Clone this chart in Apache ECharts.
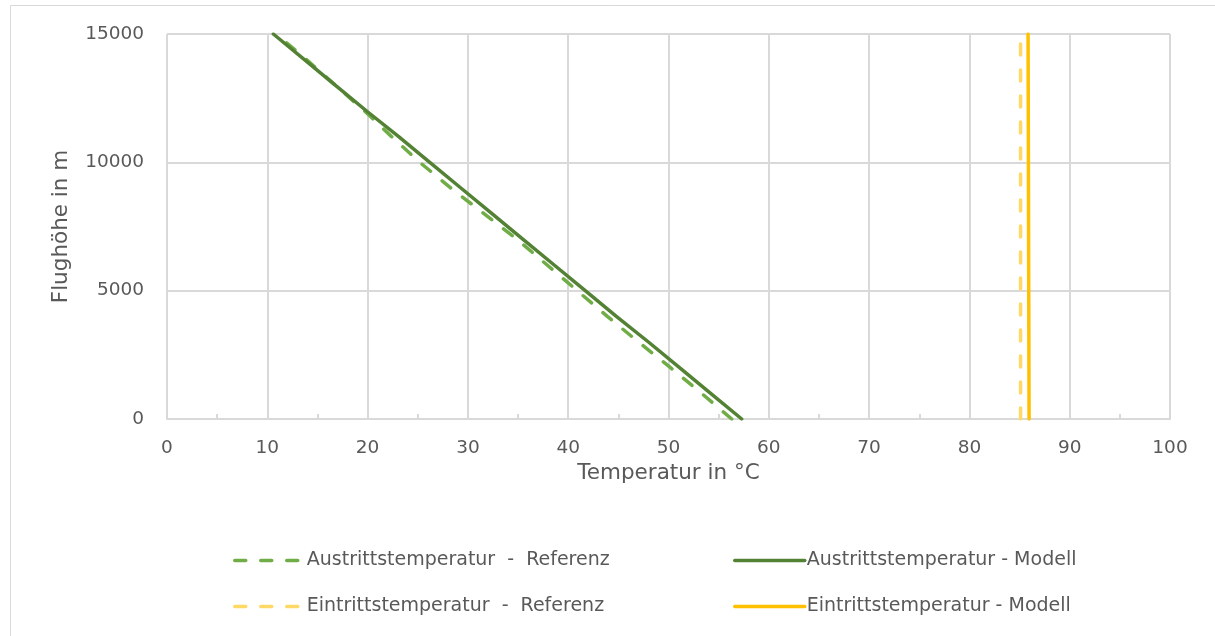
<!DOCTYPE html>
<html>
<head>
<meta charset="utf-8">
<script src="https://cdn.jsdelivr.net/npm/echarts@6/dist/echarts.min.js"></script>
<style>
  html, body { margin: 0; padding: 0; background: #fff; }
  #chart { width: 1215px; height: 636px; }
</style>
</head>
<body>
<div id="chart"></div>
<script>
// Flight altitude (m) and the matching outlet temperatures (°C)
const heights = [0, 1000, 2000, 3000, 4000, 5000, 6000, 7000, 8000, 9000, 10000, 11000, 12000, 13000, 14000, 15000];
const austrittReferenz = [56.3, 53.3, 50.2, 47.0, 43.9, 40.9, 37.9, 34.9, 31.6, 28.3, 25.2, 22.4, 19.7, 16.8, 13.9, 10.9];
const austrittModell   = [57.3, 54.2, 51.1, 48.0, 44.8, 41.7, 38.6, 35.5, 32.4, 29.3, 26.2, 23.1, 19.9, 16.8, 13.7, 10.6];

// Inlet temperature (°C), nearly constant over altitude
const eintrittHeights = [0, 15000];
const eintrittReferenz = [85.1, 85.1];
const eintrittModell   = [85.95, 85.85];

const seriesNames = [
  'Austrittstemperatur  -  Referenz',
  'Austrittstemperatur - Modell',
  'Eintrittstemperatur  -  Referenz',
  'Eintrittstemperatur - Modell'
];
const seriesColors = ['#70ad47', '#548235', '#ffd966', '#ffc000'];
const seriesDashed = [true, false, true, false];

const xTicks = [0, 10, 20, 30, 40, 50, 60, 70, 80, 90, 100];
const yTicks = [0, 5000, 10000, 15000];

const FONT = 'DejaVu Sans';
const TEXT = '#595959';
const GRID = '#d9d9d9';
const DASH = [11, 15];
const LINE_W = 3.5;

function pairs(xs, hs) { return xs.map((v, i) => [v, hs[i]]); }

function lineSeries(idx, xs, hs) {
  return {
    name: seriesNames[idx],
    type: 'line',
    data: pairs(xs, hs),
    showSymbol: false,
    symbol: 'none',
    animation: false,
    lineStyle: {
      color: seriesColors[idx],
      width: LINE_W,
      type: seriesDashed[idx] ? DASH : 'solid',
      cap: 'round'
    },
    itemStyle: { color: seriesColors[idx] }
  };
}

function legendAt(idx, left, top) {
  return {
    data: [seriesNames[idx]],
    left: left,
    top: top,
    itemWidth: 70,
    itemHeight: 14,
    itemGap: 0,
    selectedMode: false,
    itemStyle: { opacity: 0 },
    lineStyle: {
      color: seriesColors[idx],
      width: LINE_W,
      type: seriesDashed[idx] ? DASH : 'solid',
      cap: 'round'
    },
    textStyle: { color: TEXT, fontFamily: FONT, fontSize: 19, padding: [0, 0, 0, -3] }
  };
}

const chart = echarts.init(document.getElementById('chart'), null, { renderer: 'canvas' });

chart.setOption({
  backgroundColor: '#ffffff',
  animation: false,
  graphic: [{
    type: 'rect',
    shape: { x: 10.5, y: 5.5, width: 1400, height: 800 },
    style: { fill: 'none', stroke: GRID, lineWidth: 1 },
    silent: true,
    z: -10
  }],
  grid: { left: 167, right: 45, top: 34, bottom: 217, containLabel: false },
  xAxis: {
    type: 'value',
    min: xTicks[0],
    max: xTicks[xTicks.length - 1],
    interval: 10,
    name: 'Temperatur in °C',
    nameLocation: 'middle',
    nameGap: 33,
    nameTextStyle: { color: TEXT, fontFamily: FONT, fontSize: 21.5 },
    axisLine: { show: true, lineStyle: { color: GRID, width: 2 } },
    axisTick: { show: true, inside: true, length: 5, lineStyle: { color: GRID, width: 2 } },
    minorTick: { show: true, splitNumber: 2, length: 5, lineStyle: { color: GRID, width: 2 } },
    axisLabel: { color: TEXT, fontFamily: FONT, fontSize: 18.5, margin: 20 },
    splitLine: { show: true, lineStyle: { color: GRID, width: 2 } }
  },
  yAxis: {
    type: 'value',
    min: yTicks[0],
    max: yTicks[yTicks.length - 1],
    interval: 5000,
    name: 'Flughöhe in m',
    nameLocation: 'middle',
    nameGap: 95,
    nameTextStyle: { color: TEXT, fontFamily: FONT, fontSize: 21.5 },
    axisLine: { show: false },
    axisTick: { show: false },
    axisLabel: { color: TEXT, fontFamily: FONT, fontSize: 18.5, margin: 23, formatter: (v) => String(v) },
    splitLine: { show: true, lineStyle: { color: GRID, width: 2 } }
  },
  legend: [
    legendAt(0, 228, 546),
    legendAt(1, 728, 546),
    legendAt(2, 228, 592),
    legendAt(3, 728, 592)
  ],
  series: [
    lineSeries(0, austrittReferenz, heights),
    lineSeries(1, austrittModell, heights),
    lineSeries(2, eintrittReferenz, eintrittHeights),
    lineSeries(3, eintrittModell, eintrittHeights)
  ]
});
</script>
</body>
</html>
